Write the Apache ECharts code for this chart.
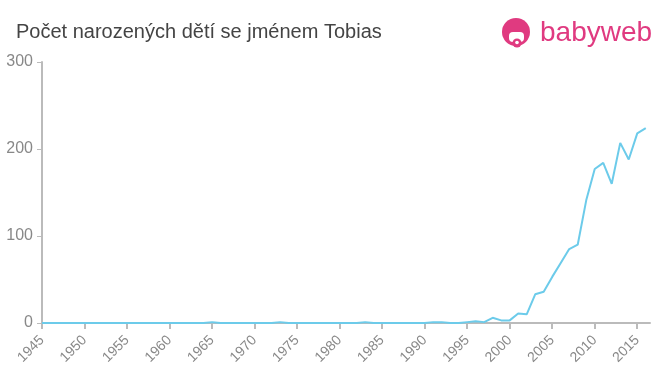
<!DOCTYPE html>
<html>
<head>
<meta charset="utf-8">
<script src="https://cdn.jsdelivr.net/npm/echarts@6/dist/echarts.min.js"></script>
<style>
html,body{margin:0;padding:0;background:#fff;}
#chart{width:660px;height:375px;}
</style>
</head>
<body>
<div id="chart"></div>
<script>
var titleText = "Počet narozených dětí se jménem Tobias";
var years = [1945,1946,1947,1948,1949,1950,1951,1952,1953,1954,1955,1956,1957,1958,1959,1960,1961,1962,1963,1964,1965,1966,1967,1968,1969,1970,1971,1972,1973,1974,1975,1976,1977,1978,1979,1980,1981,1982,1983,1984,1985,1986,1987,1988,1989,1990,1991,1992,1993,1994,1995,1996,1997,1998,1999,2000,2001,2002,2003,2004,2005,2006,2007,2008,2009,2010,2011,2012,2013,2014,2015,2016];
var births = [0,0,0,0,0,0,0,0,0,0,0,0,0,0,0,0,0,0,0,0,1,0,0,0,0,0,0,0,1,0,0,0,0,0,0,0,0,0,1,0,0,0,0,0,0,0,1,1,0,0,1,2,1,6,3,3,11,10,33,36,53,69,85,90,141,177,184,160,207,188,218,224];
var yTicks = [0,100,200,300];

var chart = echarts.init(document.getElementById('chart'));
var data = years.map(function(y,i){return [y, births[i]];});
chart.setOption({
  animation:false,
  backgroundColor:'#fff',
  title:{text:titleText,left:11,top:17,textStyle:{fontFamily:'Liberation Sans',fontSize:20,fontWeight:'normal',color:'#444'}},
  grid:{left:42,right:10,top:62,bottom:52,containLabel:false},
  xAxis:{type:'value',min:1945,max:2016.5,interval:5,
    axisLine:{show:true,lineStyle:{color:'#bbb',width:2}},
    axisTick:{show:true,length:6,lineStyle:{color:'#bbb',width:2}},
    splitLine:{show:false},
    axisLabel:{rotate:45,color:'#888',fontSize:14,fontFamily:'Liberation Sans',margin:15,showMaxLabel:false,
      formatter:function(v){return (v%5===0)?String(v):'';}}
  },
  yAxis:{type:'value',min:yTicks[0],max:yTicks[yTicks.length-1],interval:100,
    axisLine:{show:true,lineStyle:{color:'#bbb',width:2}},
    axisTick:{show:true,length:5,lineStyle:{color:'#bbb',width:1}},
    splitLine:{show:false},
    axisLabel:{color:'#888',fontSize:16,fontFamily:'Liberation Sans',margin:9}
  },
  series:[{type:'line',data:data,showSymbol:false,symbol:'none',
    lineStyle:{color:'#6ccbea',width:2},itemStyle:{color:'#6ccbea'}}],
  graphic:[
    {type:'circle',shape:{cx:516,cy:32,r:14},style:{fill:'#e03a80'}},
    {type:'rect',shape:{x:509,y:32,width:15,height:10,r:4},style:{fill:'#fff'}},
    {type:'circle',shape:{cx:517,cy:43,r:4.5},style:{fill:'#e03a80'}},
    {type:'circle',shape:{cx:517,cy:42.5,r:1.8},style:{fill:'#fff'}},
    {type:'text',style:{x:540,y:33,verticalAlign:'middle',text:'babyweb',fill:'#e03a80',font:'28px "Liberation Sans"'}}
  ]
});
</script>
</body>
</html>
